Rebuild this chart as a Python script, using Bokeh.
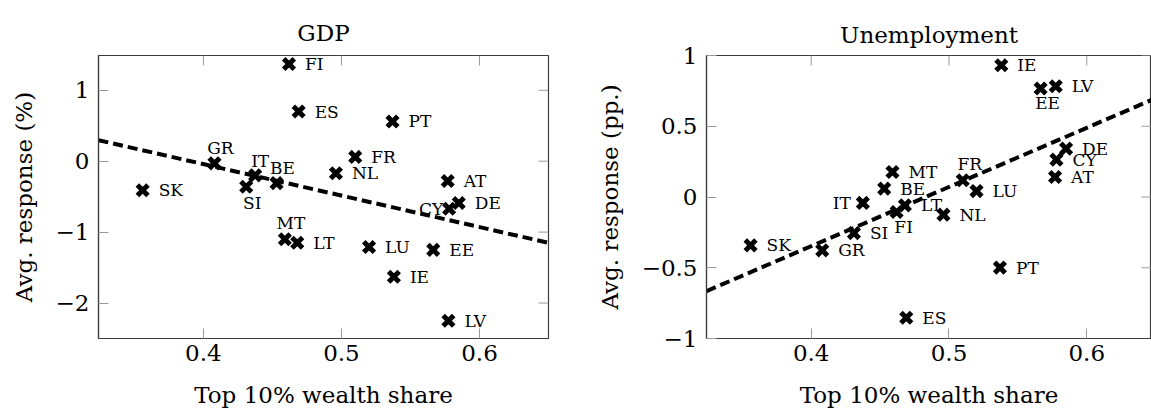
from bokeh.plotting import figure
from bokeh.models import ColumnDataSource, LinearAxis, Range1d, FixedTicker
from bokeh.layouts import row
from bokeh.embed import file_html
from bokeh.resources import INLINE
from bokeh.core.properties import value, field

# ---------------- data ----------------
countries = ["SK", "GR", "IT", "SI", "BE", "FI", "ES", "PT", "FR", "NL",
             "AT", "DE", "CY", "MT", "LT", "LU", "EE", "IE", "LV"]
wealth_share = [0.356, 0.408, 0.4375, 0.431, 0.453, 0.462, 0.469, 0.537, 0.510, 0.496,
                0.577, 0.585, 0.578, 0.459, 0.468, 0.520, 0.5665, 0.538, 0.5775]
gdp_response = [-0.41, -0.03, -0.20, -0.36, -0.31, 1.37, 0.70, 0.56, 0.06, -0.17,
                -0.28, -0.59, -0.67, -1.10, -1.15, -1.21, -1.25, -1.63, -2.25]
unemp_response = [-0.342, -0.377, -0.042, -0.255, 0.059, -0.106, -0.853, -0.499, 0.118, -0.125,
                  0.141, 0.342, 0.264, 0.177, -0.059, 0.042, 0.767, 0.931, 0.783]

# fitted trend lines (end points)
trend_x = [0.324, 0.650]
trend_gdp = [0.296, -1.151]
trend_unemp = [-0.665, 0.698]

x_ticks = [0.4, 0.5, 0.6]
x_tick_labels = ["0.4", "0.5", "0.6"]
gdp_ticks = [-2, -1, 0, 1]
gdp_tick_labels = ["\u22122", "\u22121", "0", "1"]
unemp_ticks = [-1, -0.5, 0, 0.5, 1]
unemp_tick_labels = ["\u22121", "\u22120.5", "0", "0.5", "1"]

titles = ["GDP", "Unemployment"]
x_label = "Top 10% wealth share"
y_labels = ["Avg. response (%)", "Avg. response (pp.)"]

# ---------------- style ----------------
FONT = "DejaVu Serif"
TICK_LEN = 10
FRAME_TOP, FRAME_BOTTOM = 55, 74
EAST = (16, 0, "left")
gdp_place = {"GR": (6, -15, "center"), "IT": (5, -14, "center"), "BE": (6, -15, "center"),
             "MT": (6, -16, "center"), "SI": (6, 16, "center"), "CY": (-6, 0, "right")}
unemp_place = {"EE": (7, 15, "center"), "FI": (7, 15, "center"), "FR": (7, -16, "center"),
               "IT": (-12, 0, "right")}


def style_axis(ax, ticks, labels):
    ax.ticker = FixedTicker(ticks=ticks)
    ax.major_tick_in = TICK_LEN
    ax.major_tick_out = 0
    ax.minor_tick_in = 0
    ax.minor_tick_out = 0
    ax.major_tick_line_color = "#9a9a9a"
    ax.major_tick_line_width = 1
    ax.axis_line_color = "#3c3c3c"
    ax.axis_line_width = 1.2
    ax.major_label_overrides = {t: l for t, l in zip(ticks, labels)}
    ax.major_label_text_font = FONT
    ax.major_label_text_font_size = "23px"
    ax.major_label_text_color = "black"
    ax.axis_label_text_font = FONT
    ax.axis_label_text_font_size = "23px"
    ax.axis_label_text_font_style = "normal"
    ax.axis_label_text_color = "black"


def make_panel(title, yvals, trend, y_range, yticks, ylabels, ylab, place,
               width, min_left, min_right, x_end, title_standoff):
    x0 = trend_x[0]
    p = figure(width=width, height=412, output_backend="svg", toolbar_location=None,
               x_range=Range1d(x0, x_end), y_range=Range1d(*y_range),
               min_border_left=min_left, min_border_right=min_right,
               min_border_top=FRAME_TOP, min_border_bottom=FRAME_BOTTOM,
               x_axis_location=None, y_axis_location=None)
    p.grid.visible = False
    p.outline_line_color = "#3c3c3c"
    p.outline_line_width = 1.2
    p.background_fill_color = "white"
    p.border_fill_color = "white"

    p.title.text = title
    p.title.align = "center"
    p.title.vertical_align = "top"
    p.title.text_font = FONT
    p.title.text_font_size = "23px"
    p.title.text_font_style = "normal"
    p.title.text_color = "black"
    p.title.standoff = title_standoff

    xb = LinearAxis(axis_label=x_label)
    style_axis(xb, x_ticks, x_tick_labels)
    xb.major_label_standoff = 6
    xb.axis_label_standoff = 18
    p.add_layout(xb, "below")

    yl = LinearAxis(axis_label=ylab)
    style_axis(yl, yticks, ylabels)
    yl.major_label_standoff = 9
    yl.axis_label_standoff = 16
    p.add_layout(yl, "left")

    # inward ticks on the top and right sides of the box
    frame_w = width - min_left - min_right
    frame_h = 412 - FRAME_TOP - FRAME_BOTTOM
    dy = TICK_LEN * (y_range[1] - y_range[0]) / frame_h
    dx = TICK_LEN * (x_end - x0) / frame_w
    p.segment(x0=x_ticks, x1=x_ticks, y0=[y_range[1]] * len(x_ticks),
              y1=[y_range[1] - dy] * len(x_ticks), line_color="#9a9a9a", line_width=1)
    p.segment(x0=[x_end] * len(yticks), x1=[x_end - dx] * len(yticks), y0=yticks, y1=yticks,
              line_color="#9a9a9a", line_width=1)

    p.line(trend_x, trend, line_color="black", line_width=4, line_dash="10 5")
    src = ColumnDataSource(dict(x=wealth_share, y=yvals))
    p.scatter("x", "y", source=src, marker="x", size=15, line_width=5, line_color="black")
    dxs, dys, als = [], [], []
    for c in countries:
        a = place.get(c, EAST)
        dxs.append(a[0]); dys.append(a[1]); als.append(a[2])
    lsrc = ColumnDataSource(dict(x=wealth_share, y=yvals, t=countries, dx=dxs, dy=dys, al=als))
    p.text("x", "y", text="t", source=lsrc, x_offset=field("dx"), y_offset=field("dy"),
           text_align=field("al"), text_baseline="middle",
           text_font=value(FONT), text_font_size="17px", text_color="black")
    return p


p1 = make_panel(titles[0], gdp_response, trend_gdp, (-2.5, 1.49), gdp_ticks, gdp_tick_labels,
                y_labels[0], gdp_place, 580, 98, 32, 0.650, 16)
p2 = make_panel(titles[1], unemp_response, trend_unemp, (-1.0, 1.0), unemp_ticks, unemp_tick_labels,
                y_labels[1], unemp_place, 571, 126, 0, 0.647, 12)

layout = row(p1, p2)
open("out.html", "w").write(file_html(layout, INLINE))
